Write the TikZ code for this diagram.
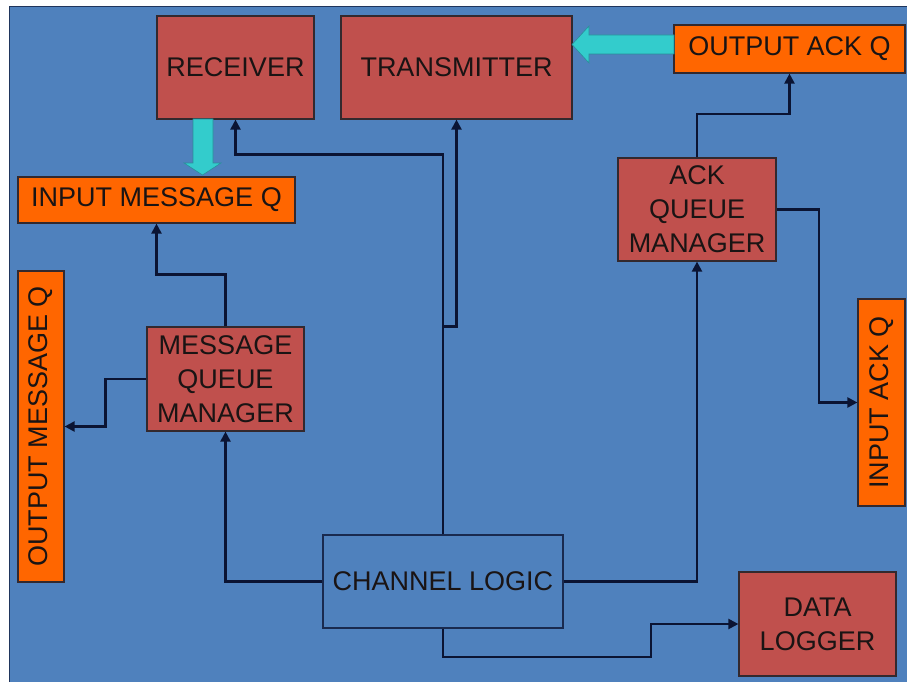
\documentclass[tikz,border=0pt]{standalone}
\usepackage{fontspec}
\setmainfont{Liberation Sans}
\usetikzlibrary{arrows.meta}
\definecolor{bgblue}{HTML}{4F81BD}
\definecolor{boxred}{HTML}{C0504D}
\definecolor{boxorange}{HTML}{FF6600}
\definecolor{arrcyan}{HTML}{33CCCC}
\definecolor{arrteal}{HTML}{2A8F9A}
\definecolor{linenavy}{HTML}{0B1433}
\definecolor{edgedark}{HTML}{33292E}
\definecolor{txtdark}{HTML}{1A1414}
\tikzset{
  blk/.style={draw=edgedark, line width=1.2pt, inner sep=0pt, align=center,
    text=txtdark, font=\fontsize{27}{34}\selectfont},
  redbox/.style={blk, fill=boxred},
  orangebox/.style={blk, fill=boxorange},
  bluebox/.style={blk, fill=bgblue, draw=linenavy!80!bgblue},
  conn/.style={draw=linenavy, line width=2.2pt,
    -{Triangle[length=10pt,width=10pt]}},
  bigarrow/.style={fill=arrcyan, draw=arrteal, line width=0.6pt, line join=miter}
}
\begin{document}
\begin{tikzpicture}[x=1pt,y=-1pt]
\useasboundingbox (0,0) rectangle (907,682);
\fill[white] (0,0) rectangle (907,682);
\fill[bgblue] (9,7) rectangle (907,682);
\draw[linenavy!70!bgblue, line width=1pt] (9,682) -- (9,7) -- (907,7);

% nodes
\node[redbox, minimum width=157pt, minimum height=103pt] (rx) at (235.5,67.5) {RECEIVER};
\node[redbox, minimum width=231pt, minimum height=103pt] (tx) at (456.5,67.5) {TRANSMITTER};
\node[orangebox, minimum width=231pt, minimum height=48pt] (oaq) at (789.5,49) {OUTPUT ACK Q};
\node[orangebox, minimum width=277pt, minimum height=46pt] (imq) at (156.5,200) {INPUT MESSAGE Q};
\node[redbox, minimum width=158pt, minimum height=103pt] (aqm) at (697,209.5) {ACK\\QUEUE\\MANAGER};
\node[orangebox, minimum width=46pt, minimum height=311pt] (omq) at (41,426.5) {\rotatebox{90}{OUTPUT MESSAGE Q}};
\node[redbox, minimum width=157pt, minimum height=104pt] (mqm) at (225.5,379) {MESSAGE\\QUEUE\\MANAGER};
\node[orangebox, minimum width=47pt, minimum height=207pt] (iaq) at (881.5,402.5) {\rotatebox{90}{INPUT ACK Q}};
\node[bluebox, minimum width=240pt, minimum height=93pt] (cl) at (443,581.5) {CHANNEL LOGIC};
\node[redbox, minimum width=157pt, minimum height=104pt] (dl) at (817.5,624) {DATA\\LOGGER};

% block arrows
\draw[bigarrow] (193,119) -- (213,119) -- (213,163) -- (221,163) -- (202.5,175)
  -- (184,163) -- (193,163) -- cycle;
\draw[bigarrow] (674,35) -- (589,35) -- (589,26) -- (572,44.5) -- (589,63)
  -- (589,54) -- (674,54) -- cycle;

% connectors
\draw[conn] (cl.north) -- ++(0,-380) -| (rx.south);
\draw[conn] (cl.north) -- ++(0,-208) -| (tx.south);
\draw[conn] (cl.west) -| (mqm.south);
\draw[conn] (mqm.north) -- ++(0,-52) -| (imq.south);
\draw[conn] (mqm.west) -- ++(-41,0) |- (omq.east);
\draw[conn] (cl.east) -| (aqm.south);
\draw[conn] (aqm.north) -- ++(0,-43) -| (oaq.south);
\draw[conn] (aqm.east) -- ++(42,0) |- (iaq.west);
\coordinate (dlbend) at (651,657);
\draw[conn] (cl.south) |- (dlbend) |- (dl.west);
\end{tikzpicture}
\end{document}
